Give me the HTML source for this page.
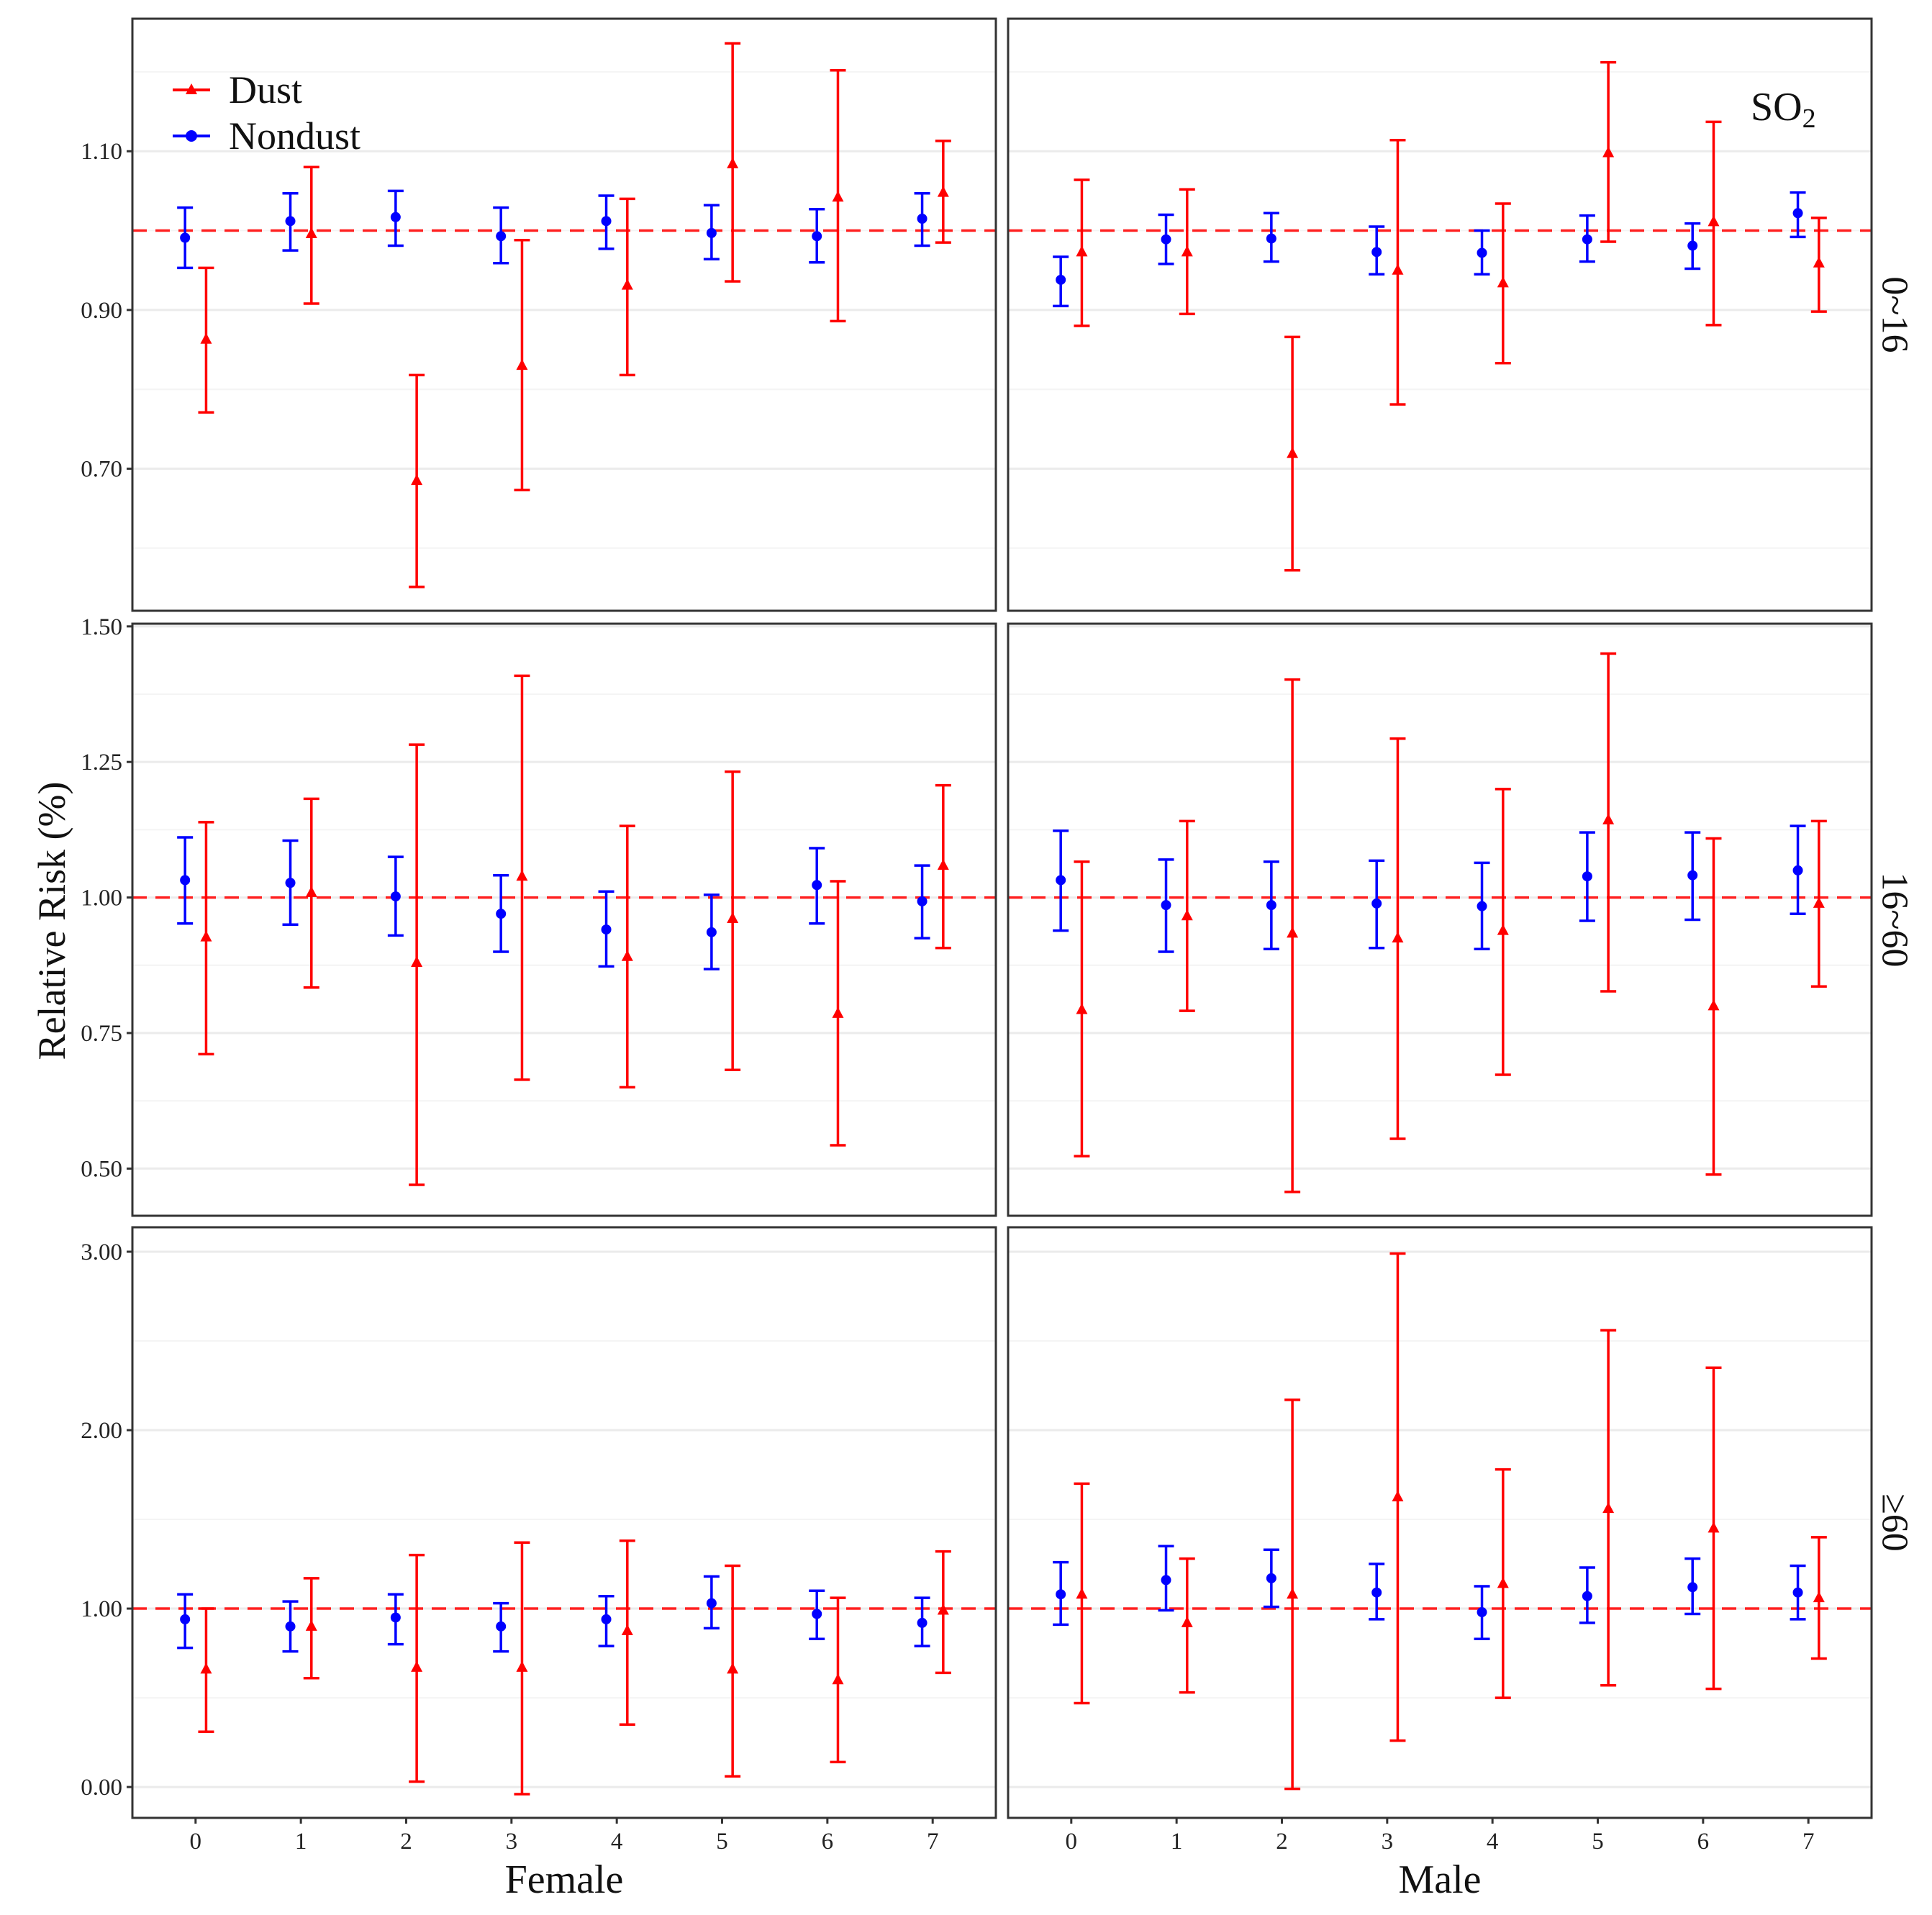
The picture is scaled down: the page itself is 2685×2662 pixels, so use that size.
<!DOCTYPE html>
<html><head><meta charset="utf-8"><style>
html,body{margin:0;padding:0;background:#fff}
svg{display:block;font-family:"Liberation Serif",serif}
</style></head><body>
<svg id="chart" width="2685" height="2662" viewBox="0 0 2685 2662" xmlns="http://www.w3.org/2000/svg">
<g id="root"></g>
</svg>
<script>
const lags = [0,1,2,3,4,5,6,7];
const sexes = ["Female","Male"];
const ages = ["0~16","16~60","≥60"];
// [row][col] : nondust est/lo/hi, dust est/lo/hi
const ndEst = [
 [[0.991,1.012,1.017,0.993,1.012,0.997,0.993,1.015],[0.938,0.989,0.990,0.973,0.972,0.989,0.981,1.022]],
 [[1.032,1.027,1.002,0.970,0.941,0.936,1.023,0.993],[1.032,0.986,0.986,0.989,0.984,1.039,1.041,1.050]],
 [[0.94,0.90,0.95,0.90,0.94,1.03,0.97,0.92],[1.08,1.16,1.17,1.09,0.98,1.07,1.12,1.09]]];
const ndLo = [
 [[0.953,0.975,0.981,0.959,0.977,0.964,0.960,0.981],[0.905,0.958,0.961,0.945,0.945,0.961,0.952,0.992]],
 [[0.952,0.950,0.930,0.900,0.873,0.868,0.952,0.925],[0.939,0.900,0.905,0.907,0.905,0.957,0.959,0.970]],
 [[0.78,0.76,0.80,0.76,0.79,0.89,0.83,0.79],[0.91,0.99,1.01,0.94,0.83,0.92,0.97,0.94]]];
const ndHi = [
 [[1.029,1.047,1.050,1.029,1.044,1.032,1.027,1.047],[0.967,1.020,1.022,1.005,1.000,1.019,1.009,1.048]],
 [[1.111,1.105,1.075,1.041,1.011,1.005,1.091,1.059],[1.123,1.070,1.066,1.068,1.064,1.120,1.120,1.132]],
 [[1.08,1.04,1.08,1.03,1.07,1.18,1.10,1.06],[1.26,1.35,1.33,1.25,1.125,1.23,1.28,1.24]]];
const dEst = [
 [[0.863,0.996,0.685,0.830,0.931,1.084,1.042,1.048],[0.973,0.973,0.719,0.950,0.934,1.098,1.011,0.959]],
 [[0.927,1.009,0.880,1.039,0.891,0.961,0.786,1.059],[0.793,0.966,0.934,0.925,0.939,1.143,0.800,0.989]],
 [[0.66,0.90,0.67,0.67,0.875,0.66,0.60,0.99],[1.08,0.92,1.08,1.625,1.14,1.56,1.45,1.06]]];
const dLo = [
 [[0.771,0.908,0.551,0.673,0.818,0.936,0.886,0.985],[0.880,0.895,0.572,0.781,0.833,0.986,0.881,0.898]],
 [[0.711,0.834,0.470,0.664,0.650,0.682,0.543,0.907],[0.523,0.791,0.457,0.555,0.673,0.827,0.489,0.836]],
 [[0.31,0.61,0.03,-0.04,0.35,0.06,0.14,0.64],[0.47,0.53,-0.01,0.26,0.50,0.57,0.55,0.72]]];
const dHi = [
 [[0.953,1.080,0.818,0.988,1.040,1.236,1.202,1.113],[1.064,1.052,0.866,1.114,1.034,1.212,1.137,1.016]],
 [[1.139,1.182,1.282,1.409,1.132,1.232,1.030,1.207],[1.066,1.141,1.402,1.293,1.200,1.450,1.109,1.141]],
 [[1.00,1.17,1.30,1.37,1.38,1.24,1.06,1.32],[1.70,1.28,2.17,2.99,1.78,2.56,2.35,1.40]]];
const yTicks = [[0.70,0.90,1.10],[0.50,0.75,1.00,1.25,1.50],[0.00,1.00,2.00,3.00]];
const yMinor = [[0.6,0.8,1.0,1.2],[0.625,0.875,1.125,1.375],[0.5,1.5,2.5]];
const yLim = [[0.521,1.267],[0.413,1.505],[-0.173,3.137]];

const NS="http://www.w3.org/2000/svg";
const root=document.getElementById('root');
function mk(tag,attrs,parent){const e=document.createElementNS(NS,tag);for(const k in attrs)e.setAttribute(k,attrs[k]);(parent||root).appendChild(e);return e;}
const colX=[[184,1384],[1401,2601]];
const rowY=[[26,849],[867,1690],[1706,2527]];
const xLim=[-0.6,7.6];

for(let r=0;r<3;r++){
 for(let c=0;c<2;c++){
  const [x0,x1]=colX[c],[y0,y1]=rowY[r];
  const xs=v=>x0+(v-xLim[0])/(xLim[1]-xLim[0])*(x1-x0);
  const ys=v=>y1-(v-yLim[r][0])/(yLim[r][1]-yLim[r][0])*(y1-y0);
  const g=mk('g',{});
  
  
  mk('rect',{x:x0,y:y0,width:x1-x0,height:y1-y0,fill:'#fff'},g);
  yMinor[r].forEach(v=>{const l=mk('line',{x1:x0,x2:x1,y1:ys(v),y2:ys(v),stroke:'#f4f4f4','stroke-width':2},g);
   });
  yTicks[r].forEach(v=>{const l=mk('line',{x1:x0,x2:x1,y1:ys(v),y2:ys(v),stroke:'#ebebeb','stroke-width':3},g);
   });
  const ref=mk('line',{x1:x0,x2:x1,y1:ys(1),y2:ys(1),stroke:'#ff2020','stroke-width':3.5,'stroke-dasharray':'20 12'},g);
  
  lags.forEach((lag,i)=>{
   // nondust
   const xn=xs(lag-0.1);
   const gn=mk('g',{stroke:'#0000ff','stroke-width':3.5},g);
   
   mk('line',{x1:xn,x2:xn,y1:ys(ndLo[r][c][i]),y2:ys(ndHi[r][c][i])},gn);
   mk('line',{x1:xn-11,x2:xn+11,y1:ys(ndLo[r][c][i]),y2:ys(ndLo[r][c][i])},gn);
   mk('line',{x1:xn-11,x2:xn+11,y1:ys(ndHi[r][c][i]),y2:ys(ndHi[r][c][i])},gn);
   const p=mk('circle',{cx:xn,cy:ys(ndEst[r][c][i]),r:7,fill:'#0000ff',stroke:'none'},g);
   
   // dust
   const xd=xs(lag+0.1);
   const gd=mk('g',{stroke:'#ff0000','stroke-width':3.5},g);
   
   mk('line',{x1:xd,x2:xd,y1:ys(dLo[r][c][i]),y2:ys(dHi[r][c][i])},gd);
   mk('line',{x1:xd-11,x2:xd+11,y1:ys(dLo[r][c][i]),y2:ys(dLo[r][c][i])},gd);
   mk('line',{x1:xd-11,x2:xd+11,y1:ys(dHi[r][c][i]),y2:ys(dHi[r][c][i])},gd);
   const yd=ys(dEst[r][c][i]);
   const t=mk('polygon',{points:`${xd-8},${yd+6} ${xd+8},${yd+6} ${xd},${yd-9}`,fill:'#ff0000',stroke:'none'},g);
   
  });
  const b=mk('rect',{x:x0,y:y0,width:x1-x0,height:y1-y0,fill:'none',stroke:'#333','stroke-width':3},g);
  
  if(c===0){
   yTicks[r].forEach(v=>{
    mk('line',{x1:x0-8,x2:x0,y1:ys(v),y2:ys(v),stroke:'#333','stroke-width':3},g);
    const tx=mk('text',{x:x0-14,y:ys(v)+11,'font-size':33,'text-anchor':'end',fill:'#222'},g);
    tx.textContent=v.toFixed(2);
    
   });
  }
  if(r===2){
   lags.forEach(lag=>{
    mk('line',{x1:xs(lag),x2:xs(lag),y1:y1,y2:y1+8,stroke:'#333','stroke-width':3},g);
    const tx=mk('text',{x:xs(lag),y:y1+43,'font-size':33,'text-anchor':'middle',fill:'#222'},g);
    tx.textContent=String(lag);
    
   });
   const xl=mk('text',{x:(x0+x1)/2,y:2631,'font-size':56,'text-anchor':'middle',fill:'#111'},g);
   xl.textContent=sexes[c];
   
  }
  if(c===1){
   const cy=(y0+y1)/2;
   const st=mk('text',{x:2633,y:cy,'font-size':52,'text-anchor':'middle',fill:'#111',transform:`rotate(90 2633 ${cy})`,'dominant-baseline':'central'},g);
   st.textContent=ages[r];
   
  }
 }
}
</script>
<text x="72" y="1280" font-size="54" text-anchor="middle" fill="#111" transform="rotate(-90 72 1280)" dominant-baseline="central" style="font-family:'Liberation Serif',serif;position:absolute"></text>
<script>
const svg=document.getElementById('chart');
const yt=document.createElementNS(NS,'text');


yt.setAttribute('x',72);yt.setAttribute('y',1280);yt.setAttribute('font-size',54);yt.setAttribute('text-anchor','middle');
yt.setAttribute('dominant-baseline','central');yt.setAttribute('transform','rotate(-90 72 1280)');yt.setAttribute('fill','#111');
yt.textContent='Relative Risk (%)';svg.appendChild(yt);
const so=document.createElementNS(NS,'text');


so.setAttribute('x',2433);so.setAttribute('y',167);so.setAttribute('font-size',56);so.setAttribute('fill','#111');
so.innerHTML='SO<tspan font-size="38" dy="10">2</tspan>';svg.appendChild(so);
const lg=document.createElementNS(NS,'g');


svg.appendChild(lg);
lg.innerHTML='<g><line x1="240" x2="292" y1="125" y2="125" stroke="#ff0000" stroke-width="4"/><polygon points="258,131 274,131 266,116" fill="#ff0000"/><text x="318" y="143" font-size="54" fill="#111">Dust</text></g>'+
'<g><line x1="240" x2="292" y1="189" y2="189" stroke="#0000ff" stroke-width="4"/><circle cx="266" cy="189" r="8" fill="#0000ff"/><text x="318" y="207" font-size="54" fill="#111">Nondust</text></g>';
</script>
</body></html>
